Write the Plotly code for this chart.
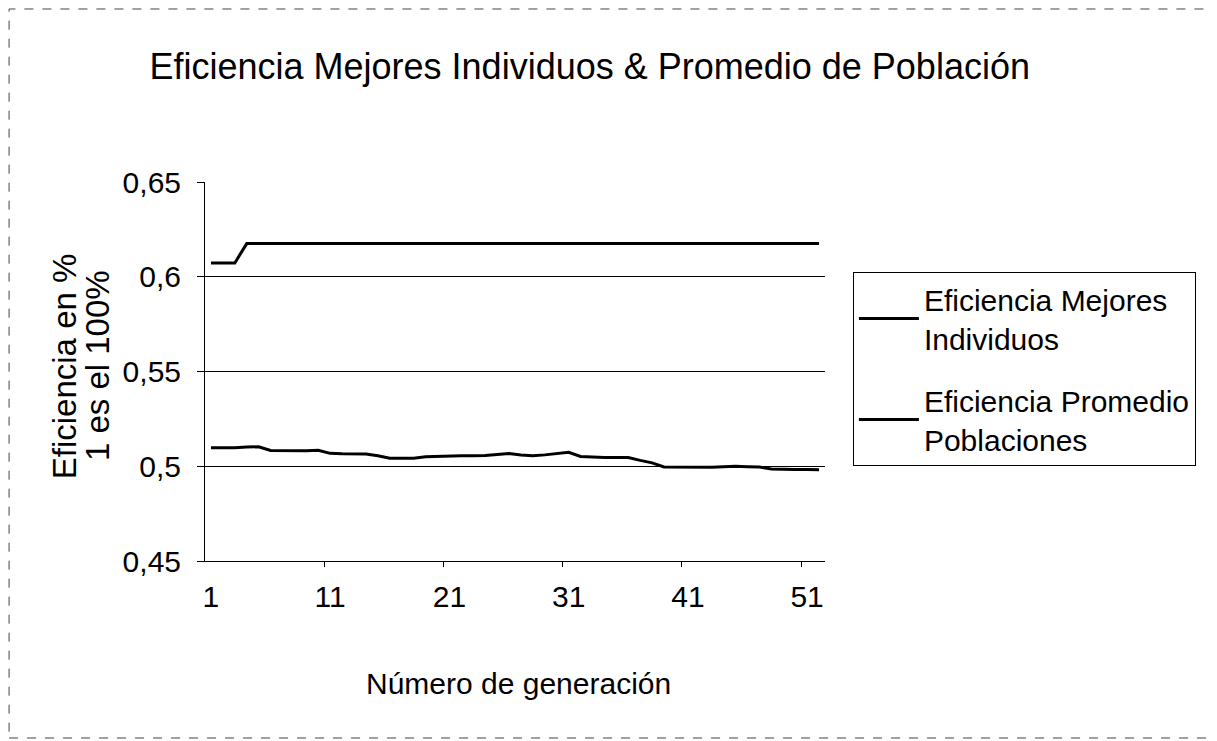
import plotly.graph_objects as go

generations = list(range(1, 53))
mejores = [0.6073, 0.6073, 0.6073] + [0.6175] * 49
promedio = [
    0.5097, 0.5097, 0.5098, 0.5101, 0.5103, 0.5083, 0.5082, 0.5082, 0.5082, 0.5084,
    0.5068, 0.5066, 0.5065, 0.5065, 0.5055, 0.5042, 0.5042, 0.5042, 0.5050, 0.5053,
    0.5055, 0.5056, 0.5056, 0.5057, 0.5062, 0.5067, 0.5059, 0.5056, 0.5060, 0.5065,
    0.5074, 0.5052, 0.5047, 0.5046, 0.5046, 0.5046, 0.5031, 0.5018, 0.4996, 0.4995,
    0.4995, 0.4995, 0.4995, 0.4998, 0.5000, 0.4998, 0.4996, 0.4985, 0.4983, 0.4983,
    0.4983, 0.4982,
]
x_ticks = [1, 11, 21, 31, 41, 51]
y_ticks = [0.45, 0.5, 0.55, 0.6, 0.65]
y_tick_text = ["0,45", "0,5", "0,55", "0,6", "0,65"]
names = ["Eficiencia Mejores<br>Individuos", "Eficiencia Promedio<br>Poblaciones"]

FONT = "Liberation Sans, Arial, sans-serif"

fig = go.Figure()
fig.add_trace(go.Scatter(x=generations, y=mejores, mode="lines", name=names[0],
                         legendgroup="a", line=dict(color="black", width=3)))
fig.add_trace(go.Scatter(x=generations, y=promedio, mode="lines", name=names[1],
                         legendgroup="b", line=dict(color="black", width=3)))

fig.update_layout(
    width=1217, height=741,
    paper_bgcolor="white", plot_bgcolor="white",
    margin=dict(l=197, r=400, t=174, b=188),
    font=dict(family=FONT, color="black", size=28),
    title=dict(text="Eficiencia Mejores Individuos & Promedio de Población",
               x=0.478, xanchor="center", y=0.9217, yanchor="middle",
               font=dict(family=FONT, size=36, color="black")),
    showlegend=True,
    legend=dict(x=1.045, xanchor="left", y=0.7625, yanchor="top",
                bordercolor="black", borderwidth=1, bgcolor="white",
                font=dict(family=FONT, size=30, color="black"),
                itemwidth=60, tracegroupgap=20),
    xaxis=dict(range=[0.5, 52.5], tickmode="array", tickvals=x_ticks,
               ticktext=[str(v) for v in x_ticks], ticks="", showgrid=False,
               zeroline=False, showline=True, linecolor="black", linewidth=1,
               tickfont=dict(family=FONT, size=30), ticklabelstandoff=9,
               minor=dict(tickmode="array", tickvals=[10.5, 20.5, 30.5, 40.5, 50.5],
                          ticks="outside", ticklen=5, tickcolor="black", showgrid=False)),
    yaxis=dict(range=[0.45, 0.65], tickmode="array", tickvals=y_ticks,
               ticktext=y_tick_text, ticks="outside", ticklen=7, tickcolor="black",
               showgrid=False, zeroline=False, showline=True, linecolor="black",
               linewidth=1, tickfont=dict(family=FONT, size=30), ticklabelstandoff=10,
               minor=dict(tickmode="array", tickvals=[0.5, 0.55, 0.6], showgrid=True,
                          gridcolor="black", gridwidth=1, ticks="")),
    annotations=[
        dict(text="Número de generación", x=0.505, y=-0.322, xref="paper", yref="paper",
             showarrow=False, xanchor="center", yanchor="middle",
             font=dict(family=FONT, size=30, color="black")),
        dict(text="Eficiencia en %", x=-0.2270, y=0.5145,
             xref="paper", yref="paper", showarrow=False, textangle=-90,
             xanchor="center", yanchor="middle",
             font=dict(family=FONT, size=33, color="black")),
        dict(text="1 es el 100%", x=-0.1740, y=0.5145,
             xref="paper", yref="paper", showarrow=False, textangle=-90,
             xanchor="center", yanchor="middle",
             font=dict(family=FONT, size=33, color="black")),
    ],
    shapes=[dict(type="rect", xref="paper", yref="paper", x0=-0.316, x1=1.627,
                 y0=-0.467, y1=1.4565, line=dict(color="#444", width=1, dash="dash"))],
)

fig.write_html("out.html")
